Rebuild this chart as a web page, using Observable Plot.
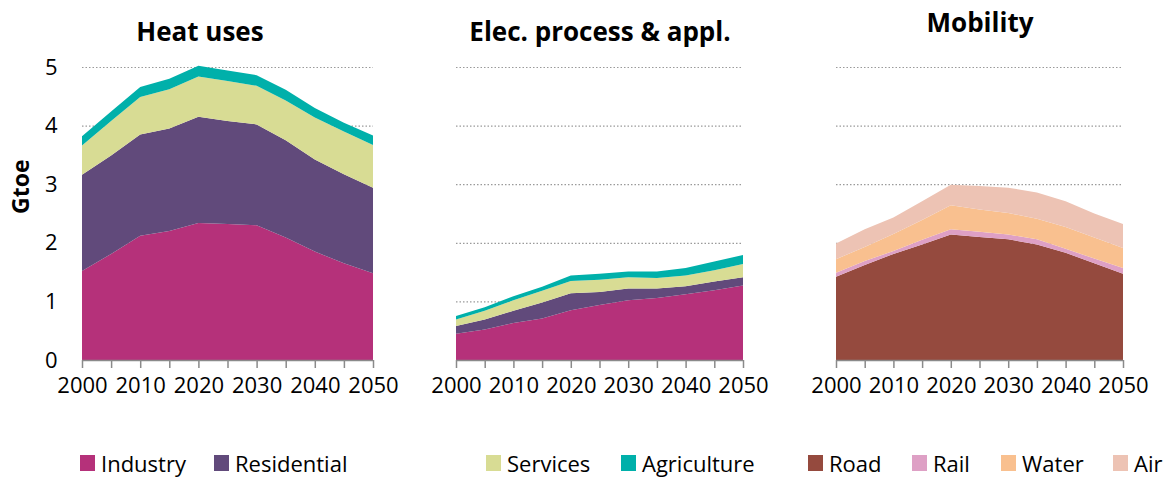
<!DOCTYPE html>
<html><head><meta charset="utf-8">
<script src="https://cdn.jsdelivr.net/npm/d3@7"></script>
<script src="https://cdn.jsdelivr.net/npm/@observablehq/plot@0.6"></script>
<style>
body{margin:0;background:#fff;font-family:"Open Sans",sans-serif;}
#wrap{position:relative;width:1172px;height:479px;overflow:hidden;}
.panel{position:absolute;top:0;}
.title{position:absolute;font-weight:bold;font-size:26px;line-height:30px;transform:translate(-50%,-50%);white-space:nowrap;color:#000;}
.leg{position:absolute;top:450px;height:26px;font-size:22px;line-height:26px;display:flex;align-items:center;color:#000;white-space:nowrap;}
.sw{width:15px;height:16px;margin-right:6px;flex:none;}
</style></head><body><div id="wrap"></div>
<script>
const years = [2000,2005,2010,2015,2020,2025,2030,2035,2040,2045,2050];

// Heat uses (Gtoe)
const heatIndustry    = [1.52,1.81,2.12,2.20,2.34,2.32,2.30,2.09,1.85,1.65,1.48];
const heatResidential = [1.64,1.68,1.73,1.75,1.81,1.76,1.72,1.66,1.57,1.52,1.46];
const heatServices    = [0.50,0.59,0.64,0.67,0.69,0.68,0.66,0.68,0.72,0.73,0.73];
const heatAgriculture = [0.16,0.16,0.17,0.18,0.18,0.18,0.18,0.18,0.16,0.15,0.16];

// Electric processes & appliances (Gtoe)
const elecIndustry    = [0.45,0.52,0.63,0.71,0.85,0.94,1.02,1.06,1.12,1.19,1.27];
const elecResidential = [0.13,0.17,0.21,0.27,0.29,0.22,0.20,0.16,0.14,0.15,0.14];
const elecServices    = [0.11,0.15,0.18,0.20,0.21,0.21,0.19,0.18,0.18,0.19,0.23];
const elecAgriculture = [0.06,0.06,0.07,0.07,0.09,0.10,0.10,0.11,0.13,0.15,0.15];

// Mobility (Gtoe)
const mobRoad  = [1.42,1.62,1.81,1.97,2.14,2.10,2.06,1.97,1.83,1.65,1.47];
const mobRail  = [0.07,0.07,0.05,0.08,0.09,0.09,0.08,0.09,0.07,0.08,0.10];
const mobWater = [0.23,0.24,0.29,0.34,0.41,0.38,0.37,0.35,0.37,0.36,0.34];
const mobAir   = [0.27,0.30,0.28,0.32,0.35,0.40,0.43,0.45,0.44,0.41,0.41];

const xTicks = years;
const yTicks = [0,1,2,3,4,5];
const gridValues = [1,2,3,4,5];

const seriesNames = ["Industry","Residential","Services","Agriculture","Road","Rail","Water","Air"];
const seriesColors = ["#b5317a","#614a7b","#d8dc94","#00b0aa","#954a3e","#dea0c5","#f9c08f","#edc3b4"];

function rows(list){
  const out=[];
  for(const [name, vals] of list) years.forEach((y,i)=>out.push({year:y, series:name, value:vals[i]}));
  return out;
}

const panels = [
  {left:0, width:400, ml:82, mr:27, yAxis:true,
   data: rows([["Industry",heatIndustry],["Residential",heatResidential],["Services",heatServices],["Agriculture",heatAgriculture]]),
   order:["Industry","Residential","Services","Agriculture"]},
  {left:420, width:360, ml:36, mr:37, yAxis:false,
   data: rows([["Industry",elecIndustry],["Residential",elecResidential],["Services",elecServices],["Agriculture",elecAgriculture]]),
   order:["Industry","Residential","Services","Agriculture"]},
  {left:790, width:382, ml:46, mr:49, yAxis:false,
   data: rows([["Road",mobRoad],["Rail",mobRail],["Water",mobWater],["Air",mobAir]]),
   order:["Road","Rail","Water","Air"]}
];

const wrap = document.getElementById("wrap");

for(const p of panels){
  const marks = [
    Plot.ruleY(gridValues, {stroke:"#9a9a9a", strokeDasharray:"1.5,2", strokeWidth:1.2}),
    Plot.areaY(p.data, {x:"year", y:"value", fill:"series", order:p.order}),
    Plot.ruleY([0], {stroke:"#8a8a8a", strokeWidth:1.5}),
    Plot.axisX({ticks:xTicks, tickSize:8, tickPadding:9, stroke:"#8a8a8a", strokeWidth:1.5, fill:"#000", fontSize:22,
      tickFormat:d => d % 10 === 0 ? String(d) : "", label:null})
  ];
  if(p.yAxis){
    marks.push(Plot.axisY({ticks:yTicks, tickSize:0, tickPadding:25, fontSize:22, fill:"#000", label:null, tickFormat:d3.format("d")}));
    marks.push(Plot.text(["Gtoe"], {frameAnchor:"left", dx:-61, rotate:-90, fontWeight:"bold", fontSize:23, fill:"#000"}));
  }
  const chart = Plot.plot({
    width:p.width, height:420,
    marginLeft:p.ml, marginRight:p.mr, marginTop:67, marginBottom:60,
    style:{fontFamily:"'Open Sans', sans-serif", background:"transparent", overflow:"visible"},
    x:{domain:[2000,2050], axis:null},
    y:{domain:[0,5], axis:null},
    color:{domain:seriesNames, range:seriesColors},
    marks
  });
  chart.classList.add("panel");
  chart.style.left = p.left + "px";
  wrap.appendChild(chart);
}

const titles = [["Heat uses",200,31],["Elec. process & appl.",600,31],["Mobility",980,22]];
for(const [t,x,y] of titles){
  const d=document.createElement("div"); d.className="title"; d.textContent=t;
  d.style.left=x+"px"; d.style.top=y+"px"; wrap.appendChild(d);
}

const legendItems = [["Industry",80],["Residential",214],["Services",486],["Agriculture",621],["Road",808],["Rail",912],["Water",1001],["Air",1113]];
for(const [name,x] of legendItems){
  const d=document.createElement("div"); d.className="leg"; d.style.left=x+"px";
  const s=document.createElement("span"); s.className="sw"; s.style.background=seriesColors[seriesNames.indexOf(name)];
  const t=document.createElement("span"); t.textContent=name;
  d.appendChild(s); d.appendChild(t); wrap.appendChild(d);
}
</script></body></html>
